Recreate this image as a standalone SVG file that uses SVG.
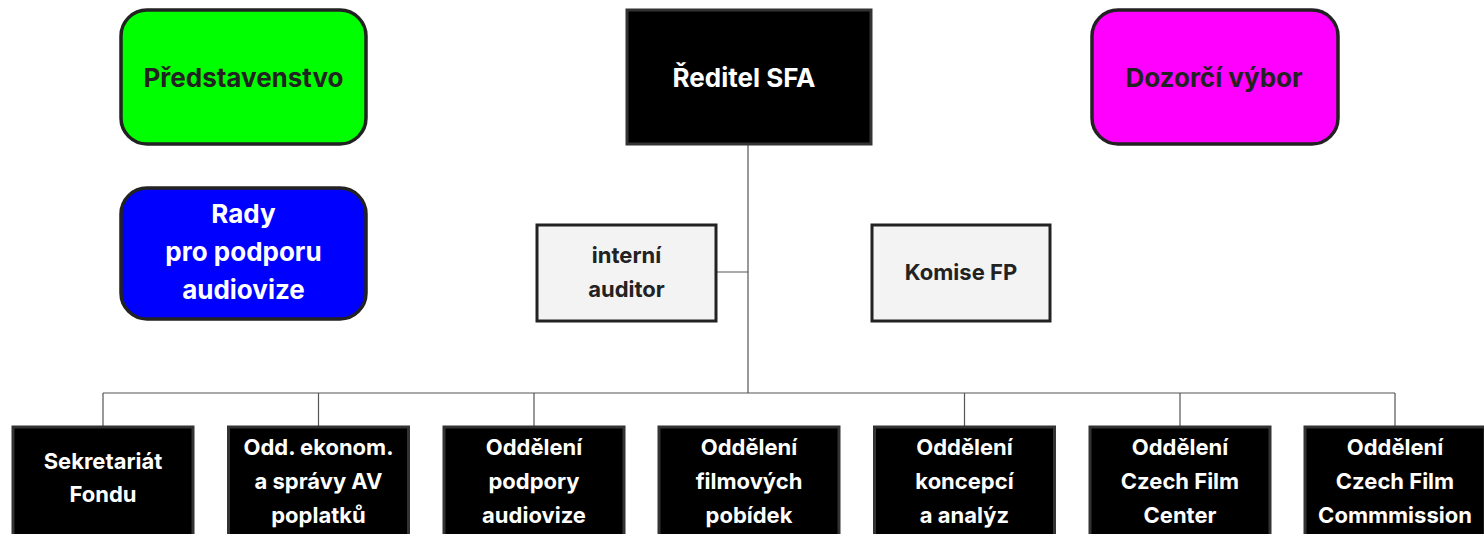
<svg xmlns="http://www.w3.org/2000/svg" width="1484" height="534" viewBox="0 0 1484 534">
<style>
text{font-family:Inter,"Open Sans","Noto Sans",sans-serif;font-weight:700;text-anchor:middle;dominant-baseline:central}
.big{font-size:26px}
.sm{font-size:22px}
.dark{fill:#222}
.wht{fill:#fff}
.round{stroke:#222;stroke-width:3.5}
.blk{fill:#000;stroke:#333;stroke-width:3}
.lite{fill:#f3f3f3;stroke:#222;stroke-width:3}
.conn{stroke:#555;stroke-width:1.2;fill:none}
</style>
<rect width="1484" height="534" fill="#fff"/>
<g id="connectors">
<path class="conn" d="M748 145V393M717 272H748M103 393H1395M103 393V426M318.5 393V426M534 393V426M964.5 393V426M1180 393V426M1395 393V426"/>
</g>
<g id="predstavenstvo"><rect class="round" x="121" y="10" width="245" height="134" rx="26" fill="#00ff00"/><text class="big dark" x="243.5" y="77">Představenstvo</text></g>
<g id="reditel"><rect class="blk" x="627" y="10" width="244" height="134"/><text class="big wht" x="744" y="77">Ředitel SFA</text></g>
<g id="dozorci"><rect class="round" x="1092" y="10" width="246" height="134" rx="26" fill="#ff00ff"/><text class="big dark" x="1214" y="77">Dozorčí výbor</text></g>
<g id="rady"><rect class="round" x="121" y="188" width="245" height="131" rx="26" fill="#0000ff"/><text class="big wht" x="243.5" y="213">Rady</text><text class="big wht" x="243.5" y="251">pro podporu</text><text class="big wht" x="243.5" y="289">audiovize</text></g>
<g id="auditor"><rect class="lite" x="537" y="225" width="179" height="96"/><text class="sm dark" x="626.5" y="255">interní</text><text class="sm dark" x="626.5" y="289">auditor</text></g>
<g id="komise"><rect class="lite" x="872" y="225" width="178" height="96"/><text class="sm dark" x="961" y="272">Komise FP</text></g>
<g id="sekretariat"><rect class="blk" x="13" y="427" width="180" height="120"/><text class="sm wht" x="103" y="461">Sekretariát</text><text class="sm wht" x="103" y="494">Fondu</text></g>
<g id="ekonom"><rect class="blk" x="228.5" y="427" width="180" height="120"/><text class="sm wht" x="318.5" y="447">Odd. ekonom.</text><text class="sm wht" x="318.5" y="481">a správy AV</text><text class="sm wht" x="318.5" y="515">poplatků</text></g>
<g id="podpora"><rect class="blk" x="444" y="427" width="180" height="120"/><text class="sm wht" x="534" y="447">Oddělení</text><text class="sm wht" x="534" y="481">podpory</text><text class="sm wht" x="534" y="515">audiovize</text></g>
<g id="pobidky"><rect class="blk" x="659" y="427" width="180" height="120"/><text class="sm wht" x="749" y="447">Oddělení</text><text class="sm wht" x="749" y="481">filmových</text><text class="sm wht" x="749" y="515">pobídek</text></g>
<g id="koncepce"><rect class="blk" x="874.5" y="427" width="180" height="120"/><text class="sm wht" x="964.5" y="447">Oddělení</text><text class="sm wht" x="964.5" y="481">koncepcí</text><text class="sm wht" x="964.5" y="515">a analýz</text></g>
<g id="cfc"><rect class="blk" x="1090" y="427" width="180" height="120"/><text class="sm wht" x="1180" y="447">Oddělení</text><text class="sm wht" x="1180" y="481">Czech Film</text><text class="sm wht" x="1180" y="515">Center</text></g>
<g id="cfcom"><rect class="blk" x="1305" y="427" width="180" height="120"/><text class="sm wht" x="1395" y="447">Oddělení</text><text class="sm wht" x="1395" y="481">Czech Film</text><text class="sm wht" x="1395" y="515">Commmission</text></g>
</svg>
